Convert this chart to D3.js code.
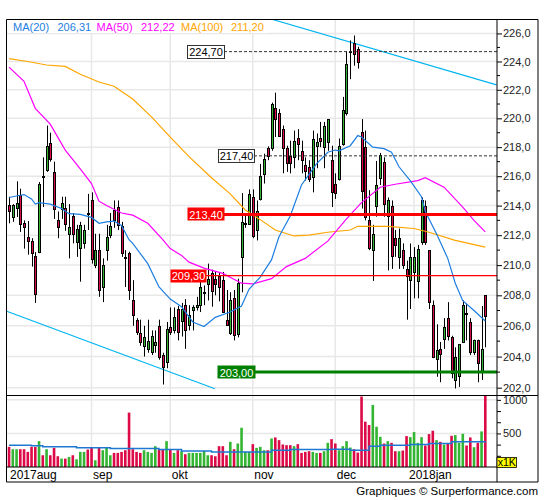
<!DOCTYPE html>
<html><head><meta charset="utf-8">
<script src="https://cdnjs.cloudflare.com/ajax/libs/d3/7.8.5/d3.min.js"></script>
<style>
body{margin:0;background:#fff;}
svg{display:block;font-family:"Liberation Sans",Arial,sans-serif;}
</style></head>
<body><svg id="c" width="545" height="500"></svg>
<script>
// ---------- DATA ----------
const open  = [214.07,213.23,213.83,214.7,212.8,211.9,211.6,210.6,210.87,216.05,216.45,218.3,216.3,213.0,213.8,213.85,212.05,213.3,211.55,211.15,211.5,213.5,214.4,210.0,211.0,208.55,211.0,212.0,213.7,213.9,212.6,210.55,210.8,207.66,206.4,205.5,204.7,204.45,204.3,204.75,206.0,204.1,203.65,205.95,205.75,207.1,206.3,207.35,206.05,207.0,207.2,207.35,208.2,208.8,209.45,209.05,209.25,209.0,206.4,205.5,207.8,205.45,210.55,212.75,212.8,214.55,212.35,214.5,216.2,217.95,217.95,220.7,220.4,219.25,217.95,217.4,217.3,218.6,217.75,216.8,216.65,215.95,218.1,218.6,218.05,218.35,217.1,215.45,215.85,218.2,220.35,224.7,225.3,224.9,219.05,218.0,213.0,211.0,214.0,215.85,217.0,213.25,214.0,211.8,210.55,211.0,209.75,209.0,209.55,209.0,211.5,214.0,211.0,207.35,203.8,204.5,205.15,206.5,205.3,202.55,202.75,204.95,206.85,206.25,204.35,205.1,203.0,208.0];
const high  = [214.6,214.1,215.65,215.15,213.0,212.96,211.8,210.87,215.6,217.3,219.5,219.0,217.0,213.6,214.6,214.6,214.1,213.5,212.7,212.9,212.7,214.8,214.9,212.1,212.1,210.45,212.7,213.5,214.35,214.35,212.9,211.0,210.9,209.0,206.5,206.4,206.0,206.4,205.7,205.7,206.4,204.25,206.25,207.2,207.2,207.3,207.5,207.75,207.35,207.35,207.9,209.0,208.65,210.1,209.7,209.55,209.55,209.55,208.35,208.2,208.35,209.1,214.85,213.35,215.1,215.1,214.35,216.85,217.55,218.05,221.1,221.8,220.65,219.5,218.1,218.45,219.15,219.25,218.45,217.3,217.1,219.15,218.95,219.75,219.75,219.95,218.1,216.2,218.6,221.5,224.7,225.5,225.85,225.05,219.95,219.15,215.05,212.7,217.05,217.6,217.3,214.55,214.35,212.35,212.45,211.45,210.3,211.45,211.2,211.35,214.55,214.35,211.0,207.66,206.1,204.95,206.5,207.55,205.35,204.6,204.8,207.66,207.45,206.5,205.1,205.1,207.3,208.0];
const low   = [212.8,212.9,213.23,212.22,211.1,210.7,209.9,207.5,210.8,213.9,216.3,217.0,213.1,211.8,213.1,212.3,210.45,211.45,210.55,208.9,211.1,212.35,210.1,209.8,207.9,207.55,210.3,211.8,212.5,212.35,210.55,208.55,207.7,206.0,205.4,204.7,204.0,204.25,204.1,204.25,203.8,202.2,203.25,205.4,205.5,205.05,205.3,204.5,205.7,205.7,207.0,206.9,207.35,207.66,207.25,208.0,207.6,206.9,206.0,205.4,205.05,205.25,208.2,212.5,212.7,211.8,211.65,214.35,215.5,217.1,217.75,218.7,218.75,216.2,216.3,216.2,216.55,217.1,216.2,215.7,215.6,214.9,216.55,218.0,216.55,217.75,213.9,214.45,215.7,218.1,220.2,222.75,223.7,223.5,213.8,213.0,211.0,208.95,213.25,215.4,213.25,209.65,209.75,210.55,209.75,209.75,206.4,207.1,207.8,207.8,211.35,211.35,207.1,203.9,202.7,202.35,204.5,205.05,202.6,201.95,202.05,204.9,205.05,204.1,204.1,202.35,202.5,204.6];
const close = [213.63,214.07,214.19,212.72,212.5,211.6,210.8,208.1,215.45,216.0,218.1,217.2,213.8,212.55,214.2,212.8,212.55,212.1,212.45,212.68,212.35,213.45,210.45,211.0,208.35,210.0,211.9,212.6,213.05,212.7,210.8,210.5,208.35,206.7,205.6,204.9,205.3,205.0,205.35,204.95,204.0,203.3,205.8,205.6,206.6,205.6,207.1,205.7,206.7,207.2,207.35,208.55,208.25,209.1,208.25,208.7,208.55,206.9,206.1,207.66,205.4,208.8,212.9,212.8,214.8,211.9,213.6,216.05,217.2,217.4,221.0,219.9,218.8,217.95,216.95,216.95,218.4,218.2,217.1,216.4,215.85,218.55,218.35,218.4,219.5,219.95,214.9,214.85,218.1,220.55,223.8,224.75,224.5,224.0,215.0,213.2,211.1,212.1,215.4,217.45,214.1,214.35,210.65,211.35,211.8,210.0,209.3,210.55,210.55,211.1,214.35,211.55,207.55,203.95,204.4,204.2,205.95,205.3,203.0,204.0,204.8,207.35,206.8,204.3,205.1,203.6,204.5,206.6];
const volume = [300,265,265,265,265,225,300,300,385,175,265,175,285,160,125,125,150,175,115,225,225,260,285,100,285,250,285,175,210,210,225,250,810,265,225,210,250,225,210,310,265,265,385,265,210,250,235,190,210,210,210,210,240,175,175,160,310,310,175,375,265,350,585,225,225,340,285,300,250,250,425,440,400,335,325,325,310,340,210,225,235,225,210,210,235,360,415,350,250,310,385,290,265,215,1050,675,625,925,600,450,350,385,360,235,235,245,460,445,520,360,445,320,490,540,400,375,335,350,465,475,360,495,320,440,295,360,530,1080];

// moving averages (trading-day index, value)
const ma20Idx = [0,3,4,6,7,8,11,14,16,19,22,24,26,28,30,32,33,37,40,43,46,49,52,55,59,62,64,67,70,72,75,78,82,85,87,88,91,93,94,97,100,102,104,107,110,111,114,117,119,121,124,127];
const ma20    = [214.55,214.7,214.75,214.45,214.1,214.2,214.1,213.8,213.45,213.4,213.2,212.8,212.9,212.95,212.65,211.7,211.45,210.1,208.55,207.75,207.25,206.25,205.95,206.55,206.9,207.3,208.4,209.2,210.35,211.9,213.3,215.4,216.85,217.65,217.8,217.75,218.1,218.8,218.7,218.0,217.9,217.65,216.65,215.7,214.6,213.6,212.1,210.45,208.8,207.65,207.0,206.31];
const ma50Idx = [0,4,7,11,15,19,22,24,26,30,33,37,41,43,46,48,52,57,62,65,70,74,79,85,90,94,99,103,109,111,116,121,124,127];
const ma50    = [223.6,222.6,220.7,219.6,217.8,216.5,215.5,214.3,214.0,213.5,213.35,212.8,211.7,211.1,210.65,210.2,209.8,209.45,208.8,208.75,209.1,209.9,210.45,211.6,213.1,214.2,215.25,215.45,215.7,215.9,215.25,213.9,213.0,212.22];
const ma100Idx = [0,5,10,15,19,24,28,33,38,43,48,54,59,63,67,71,76,80,85,91,93,101,108,112,119,127];
const ma100    = [224.2,224.0,223.75,223.65,223.1,222.55,222.25,221.35,220.1,218.7,217.35,215.9,214.8,213.7,213.05,212.35,211.95,212.0,212.2,212.35,212.6,212.6,212.45,212.2,211.65,211.2];
const volMaIdx = [0,6,9,18,27,35,40,46,54,67,70,75,86,91,96,99,107,112,118,127];
const volMa    = [325,315,300,285,275,275,260,240,225,225,250,260,265,250,310,325,335,350,375,385];

// trend lines (index, price)
const trendUpIdx = [70.3,130], trendUp = [227.0,222.35];
const trendLoIdx = [-0.6,54.9], trendLo = [206.95,201.93];

const levels = [224.70,217.40,213.40,209.30,203.00];
const maNames = ["MA(20)","MA(50)","MA(100)"];
const maLast  = [206.31,212.22,211.20];
const months = ["2017aug","sep","okt","nov","dec","2018jan"];
const monthStart = [0,22,43,65,87,108];
const priceMajor = [202,204,206,208,210,212,214,216,218,220,222,224,226];
const priceMinor = [203,205,207,209,211,213,215,217,219,221,223,225,227];
const volTicks = [1000,833.33,666.67,500,333.33,166.67];
const volLabels = [1000,500];

// ---------- LAYOUT ----------
const L=6.5, R=497, T=19.5, PB=395.5, VB=467, FB=482, FR=538;
const svg = d3.select("#c");
const x = d3.scaleLinear().domain([0,127]).range([9,485.25]);
const y = d3.scaleLog().domain([201.5,227]).range([PB,T]);
const yv = d3.scaleLinear().domain([0,1065]).range([VB,PB]);
const GREEN="#33b533", RED="#dc0a46", GRID="#e8e8e8";
const fmt = v => d3.format(".1f")(v).replace(".",",");
const fmt2 = v => d3.format(".2f")(v).replace(".",",");

const defs = svg.append("defs");
defs.append("clipPath").attr("id","cp").append("rect").attr("x",L).attr("y",T).attr("width",R-L).attr("height",PB-T);
defs.append("clipPath").attr("id","cv").append("rect").attr("x",L).attr("y",PB).attr("width",R-L).attr("height",VB-PB);

// grid
const g = svg.append("g");
g.selectAll(".hg").data(priceMajor).enter().append("line")
 .attr("x1",L).attr("x2",R).attr("y1",d=>y(d)).attr("y2",d=>y(d))
 .attr("stroke",GRID).attr("stroke-width",1.5);
g.selectAll(".vg").data(volLabels).enter().append("line")
 .attr("x1",L).attr("x2",R).attr("y1",d=>yv(d)).attr("y2",d=>yv(d))
 .attr("stroke",GRID).attr("stroke-width",1.5);
g.selectAll(".mg").data(monthStart.slice(1)).enter().append("line")
 .attr("x1",d=>x(d)).attr("x2",d=>x(d)).attr("y1",T).attr("y2",VB)
 .attr("stroke",GRID).attr("stroke-width",1.5);

// volume bars
const vg = svg.append("g").attr("clip-path","url(#cv)");
vg.selectAll("rect").data(volume).enter().append("rect")
 .attr("x",(d,i)=>x(i)-1.25).attr("width",2.6)
 .attr("y",d=>yv(d)).attr("height",d=>VB-yv(d))
 .attr("fill",(d,i)=>close[i]>=open[i]?GREEN:RED);
vg.append("path").datum(volMaIdx.map((d,i)=>[d,volMa[i]]))
 .attr("d",d3.line().x(d=>x(d[0])).y(d=>yv(d[1])).curve(d3.curveStepAfter))
 .attr("fill","none").attr("stroke","#1e78d2").attr("stroke-width",1.5);

// price panel
const pg = svg.append("g").attr("clip-path","url(#cp)");
// trend lines
[[trendUpIdx,trendUp],[trendLoIdx,trendLo]].forEach(([ix,v])=>{
  pg.append("line").attr("x1",x(ix[0])).attr("x2",x(ix[1])).attr("y1",y(v[0])).attr("y2",y(v[1]))
   .attr("stroke","#00b4f0").attr("stroke-width",1.2);
});
// candles
const cg = pg.append("g");
open.forEach((o,i)=>{
  const r = Math.round(x(i));
  const c = close[i];
  cg.append("line").attr("x1",r+0.5).attr("x2",r+0.5).attr("y1",y(high[i])).attr("y2",y(low[i]))
    .attr("stroke","#000").attr("stroke-width",1);
  const top = y(Math.max(o,c)), bot = y(Math.min(o,c));
  cg.append("rect").attr("x",r-0.5).attr("width",2)
    .attr("y",Math.round(top)+0.5).attr("height",Math.max(1,Math.round(bot-top)))
    .attr("fill",c>=o?GREEN:RED).attr("stroke","#000").attr("stroke-width",1);
});
// MAs
const maLine = d3.line().x(d=>x(d[0])).y(d=>y(d[1]));
[[ma100Idx,ma100,"#ffa500"],[ma50Idx,ma50,"#ff00ff"],[ma20Idx,ma20,"#1c7ee0"]].forEach(([ix,v,col])=>{
  pg.append("path").datum(ix.map((d,i)=>[d,v[i]])).attr("d",maLine)
   .attr("fill","none").attr("stroke",col).attr("stroke-width",1.2);
});

// level lines + labels
const lv = [
 {x0:187,x1:224,fill:"#fff",stroke:"#333",txt:"#000",line:"#333",w:1,dash:"3,2"},
 {x0:218,x1:254,fill:"#fff",stroke:"#333",txt:"#000",line:"#333",w:1,dash:"3,2"},
 {x0:187,x1:224,fill:"#ff0000",stroke:"none",txt:"#fff",line:"#ff0000",w:3,dash:null},
 {x0:170,x1:206,fill:"#ff0000",stroke:"none",txt:"#fff",line:"#ff0000",w:1.2,dash:null},
 {x0:217,x1:255,fill:"#008000",stroke:"none",txt:"#fff",line:"#008000",w:3,dash:null}
];
levels.forEach((v,i)=>{
  const s = lv[i], yy = y(v);
  svg.append("line").attr("x1",s.x1).attr("x2",R).attr("y1",yy).attr("y2",yy)
    .attr("stroke",s.line).attr("stroke-width",s.w).attr("stroke-dasharray",s.dash);
  svg.append("rect").attr("x",s.x0+0.5).attr("y",Math.round(yy-7)+0.5).attr("width",s.x1-s.x0).attr("height",13)
    .attr("fill",s.fill).attr("stroke",s.stroke);
  svg.append("text").attr("x",(s.x0+s.x1)/2+0.5).attr("y",yy+4.5).attr("text-anchor","middle")
    .attr("font-size",11).attr("fill",s.txt).text(fmt2(v));
});

// legend
svg.append("rect").attr("x",8).attr("y",20).attr("width",260).attr("height",13).attr("fill","#fff");
const legCols = ["#1c7ee0","#ff00ff","#ffa500"];
const legX = [[13,57.5],[96.5,141],[181,231]];
maNames.forEach((n,i)=>{
  svg.append("text").attr("x",legX[i][0]).attr("y",30.5).attr("font-size",11).attr("fill",legCols[i]).text(n);
  svg.append("text").attr("x",legX[i][1]).attr("y",30.5).attr("font-size",11).attr("fill",legCols[i]).text(fmt2(maLast[i]));
});

// frame
const fr = svg.append("g").attr("stroke","#000").attr("stroke-width",1);
fr.append("line").attr("x1",L).attr("x2",L).attr("y1",T).attr("y2",FB);
fr.append("line").attr("x1",L).attr("x2",FR).attr("y1",T).attr("y2",T);
fr.append("line").attr("x1",FR).attr("x2",FR).attr("y1",T).attr("y2",FB);
fr.append("line").attr("x1",L).attr("x2",FR).attr("y1",FB).attr("y2",FB);
fr.append("line").attr("x1",L).attr("x2",FR).attr("y1",PB).attr("y2",PB);
fr.append("line").attr("x1",L).attr("x2",R).attr("y1",VB).attr("y2",VB);
fr.append("line").attr("x1",R).attr("x2",R).attr("y1",T).attr("y2",FB);

// price axis
const ax = svg.append("g").attr("transform",`translate(${R},0)`);
ax.call(d3.axisRight(y).tickValues(priceMajor).tickSize(5).tickFormat(fmt))
  .call(a=>a.select(".domain").remove())
  .call(a=>a.selectAll("text").attr("font-size",11).attr("fill","#222").attr("x",6).attr("font-family","Liberation Sans, Arial, sans-serif"));
ax.selectAll(".mn").data(priceMinor).enter().append("line")
  .attr("x1",0).attr("x2",3).attr("y1",d=>y(d)).attr("y2",d=>y(d)).attr("stroke","#000");
// volume axis
const av = svg.append("g").attr("transform",`translate(${R},0)`);
av.call(d3.axisRight(yv).tickValues(volTicks).tickSize(4).tickFormat(d=>volLabels.includes(d)?d:""))
  .call(a=>a.select(".domain").remove())
  .call(a=>a.selectAll("text").attr("font-size",11).attr("fill","#222").attr("x",6).attr("font-family","Liberation Sans, Arial, sans-serif"));
svg.append("rect").attr("x",497).attr("y",457.5).attr("width",19.5).attr("height",10).attr("fill","#ffff00").attr("stroke","#000").attr("stroke-width",0.8);
svg.append("text").attr("x",506.75).attr("y",466).attr("text-anchor","middle").attr("font-size",10.5).attr("fill","#000").text("x1K");

// month labels
months.forEach((m,i)=>{
  const xx = i===0 ? 10 : (i===months.length-1 ? x(monthStart[i])-5 : x(monthStart[i])+1.5);
  svg.append("text").attr("x",xx).attr("y",478.5).attr("font-size",12).attr("fill","#000").text(m);
});

// footer
svg.append("text").attr("x",538).attr("y",495).attr("text-anchor","end").attr("font-size",11.5).attr("fill","#000")
  .text("Graphiques © Surperformance.com");
</script></body></html>
